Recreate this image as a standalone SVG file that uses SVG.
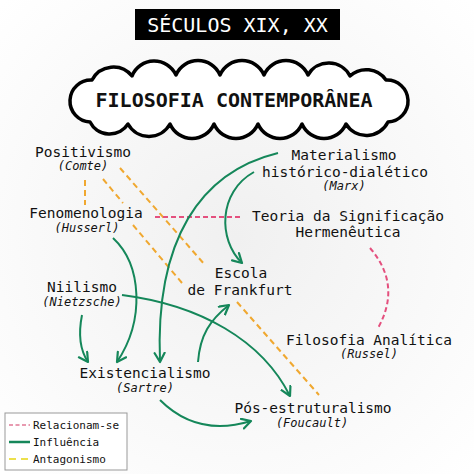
<svg xmlns="http://www.w3.org/2000/svg" width="474" height="474" viewBox="0 0 474 474">
<defs>
<radialGradient id="bg" cx="50%" cy="50%" r="70%">
<stop offset="0" stop-color="#f0f0f0"/>
<stop offset="1" stop-color="#ffffff"/>
</radialGradient>
<marker id="arr" markerUnits="userSpaceOnUse" markerWidth="14" markerHeight="14" refX="10" refY="6" orient="auto">
<path d="M1,1 L10,6 L1,11" fill="none" stroke="#15875a" stroke-width="2.2" stroke-linecap="round" stroke-linejoin="round"/>
</marker>
<style>
text{font-family:"DejaVu Sans Mono","Liberation Mono",monospace;fill:#111;text-anchor:middle}
.n{font-size:14.5px}
.a{font-size:12px;font-style:italic}
.lg{font-size:11px;text-anchor:start}
.inf{fill:none;stroke:#15875a;stroke-width:2;marker-end:url(#arr)}
.ant{fill:none;stroke:#f0a830;stroke-width:2;stroke-dasharray:6 4}
.rel{fill:none;stroke:#e4507e;stroke-width:2;stroke-dasharray:5 3}
</style>
</defs>
<rect width="474" height="474" fill="url(#bg)"/>
<g id="titulo">
<rect x="135" y="9" width="205" height="31" fill="#000"/>
<text x="237.5" y="32" style="font-size:20px;fill:#fff">SÉCULOS XIX, XX</text>
</g>
<g id="nuvem">
<path d="M90,122 A20,20 0 0 1 92,80 A24,24 0 0 1 132,76 A24,24 0 0 1 176,75 A24,24 0 0 1 220,75 A24,24 0 0 1 264,75 A24,24 0 0 1 308,75 A24,24 0 0 1 350,76 A24,24 0 0 1 386,80 A20,20 0 0 1 388,122 A24,24 0 0 1 346,124 A24,24 0 0 1 302,124 A24,24 0 0 1 258,124 A24,24 0 0 1 214,124 A24,24 0 0 1 170,124 A24,24 0 0 1 128,124 A22,22 0 0 1 90,122 Z" fill="#fff" stroke="#000" stroke-width="3.5" stroke-linejoin="round"/>
<text x="234" y="107" style="font-size:20px;font-weight:bold">FILOSOFIA CONTEMPORÂNEA</text>
</g>
<g id="conectores">
<line class="ant" x1="85" y1="180" x2="85" y2="205"/>
<line class="ant" x1="103" y1="179" x2="123" y2="203"/>
<line class="ant" x1="133" y1="225" x2="182" y2="283"/>
<line class="ant" x1="120" y1="168" x2="205" y2="265"/>
<line class="ant" x1="237" y1="302" x2="319" y2="395"/>
<line class="rel" x1="155" y1="217" x2="243" y2="217"/>
<path class="rel" d="M370,248 Q402,285 378,328"/>
<path class="inf" d="M278,153 C200,172 155,240 160,362"/>
<path class="inf" d="M254,172 C218,192 218,240 242,263"/>
<path class="inf" d="M113,238 C142,265 145,320 117,362"/>
<path class="inf" d="M82,315 C78,335 80,350 88,362"/>
<path class="inf" d="M122,295 C200,305 262,340 290,396"/>
<path class="inf" d="M198,362 C200,335 210,320 229,305"/>
<path class="inf" d="M160,400 C185,425 215,432 251,421"/>
</g>
<g id="positivismo"><text class="n" x="83" y="157">Positivismo</text><text class="a" x="83" y="170">(Comte)</text></g>
<g id="fenomenologia"><text class="n" x="86" y="218">Fenomenologia</text><text class="a" x="87" y="232">(Husserl)</text></g>
<g id="materialismo"><text class="n" x="344" y="160">Materialismo</text><text class="n" x="345" y="177">histórico-dialético</text><text class="a" x="344" y="190">(Marx)</text></g>
<g id="teoria"><text class="n" x="348" y="221">Teoria da Significação</text><text class="n" x="348" y="237">Hermenêutica</text></g>
<g id="niilismo"><text class="n" x="82" y="292">Niilismo</text><text class="a" x="82" y="306">(Nietzsche)</text></g>
<g id="frankfurt"><text class="n" x="241" y="278">Escola</text><text class="n" x="240" y="295">de Frankfurt</text></g>
<g id="analitica"><text class="n" x="369" y="345">Filosofia Analítica</text><text class="a" x="369" y="358">(Russel)</text></g>
<g id="existencialismo"><text class="n" x="145" y="378">Existencialismo</text><text class="a" x="145" y="392">(Sartre)</text></g>
<g id="pos"><text class="n" x="313" y="413">Pós-estruturalismo</text><text class="a" x="312" y="427">(Foucault)</text></g>
<g id="legenda">
<rect x="5" y="413" width="122" height="57" fill="#fff" stroke="#999" stroke-width="1"/>
<line x1="9" y1="425" x2="30" y2="425" stroke="#e89ab0" stroke-width="2" stroke-dasharray="4 2.5"/>
<text class="lg" x="33" y="429">Relacionam-se</text>
<line x1="9" y1="442" x2="30" y2="442" stroke="#15875a" stroke-width="2.5"/>
<text class="lg" x="33" y="446">Influência</text>
<line x1="9" y1="459" x2="30" y2="459" stroke="#ece04c" stroke-width="2" stroke-dasharray="7 5"/>
<text class="lg" x="33" y="463">Antagonismo</text>
</g>
</svg>
